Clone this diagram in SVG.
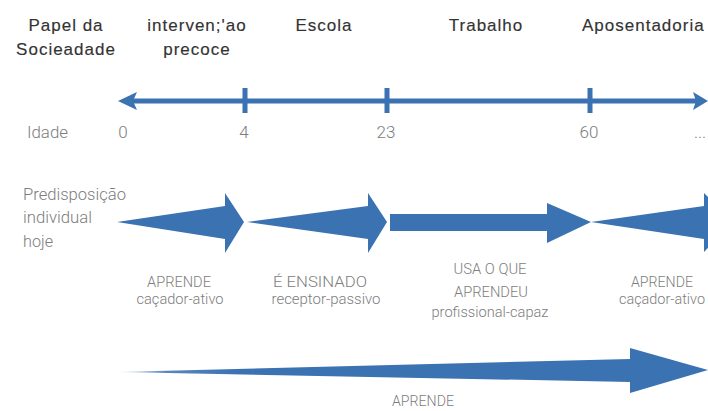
<svg xmlns="http://www.w3.org/2000/svg" width="708" height="411" viewBox="0 0 708 411">
<defs>
<style>
.hd{font-family:"Liberation Sans",Arial,sans-serif;font-size:17px;letter-spacing:1px;fill:#333;stroke:#333;stroke-width:0.15;text-anchor:middle}
.gy{font-family:Roboto,"Liberation Sans",sans-serif;font-weight:300;font-size:15px;fill:#7d7d7d;text-anchor:middle}
.gl{font-family:Roboto,"Liberation Sans",sans-serif;font-weight:300;font-size:17px;fill:#7d7d7d;text-anchor:start}
.bl{fill:#3a72b2}
</style>
<linearGradient id="fade" x1="117" y1="0" x2="240" y2="0" gradientUnits="userSpaceOnUse">
<stop offset="0" stop-color="#3a72b2" stop-opacity="0.1"/>
<stop offset="0.4" stop-color="#3a72b2" stop-opacity="0.85"/>
<stop offset="1" stop-color="#3a72b2"/>
</linearGradient>
</defs>
<rect width="708" height="411" fill="#fff"/>

<g id="headers">
<text class="hd" x="66" y="31">Papel da</text>
<text class="hd" x="66" y="55">Socieadade</text>
<text class="hd" x="197" y="31">interven;'ao</text>
<text class="hd" x="197" y="55">precoce</text>
<text class="hd" x="324" y="31">Escola</text>
<text class="hd" x="486" y="31">Trabalho</text>
<text class="hd" x="582" y="31" style="text-anchor:start">Aposentadoria</text>
</g>

<g id="connectors">
<g id="timeline">
<rect class="bl" x="130" y="98.5" width="568" height="5"/>
<polygon class="bl" points="118,101 137,92 133,101 137,110"/>
<polygon class="bl" points="708,101 693,92 696,101 693,110"/>
<rect class="bl" x="242.5" y="88" width="5" height="25"/>
<rect class="bl" x="384.5" y="88" width="5" height="25"/>
<rect class="bl" x="587.5" y="88" width="5" height="25"/>
</g>
<g id="bottom-arrow">
<polygon fill="url(#fade)" points="117,372 630,359 630,348 708,370 630,393 630,382"/>
</g>
</g>

<g id="ages">
<text class="gl" x="27" y="138" textLength="41" lengthAdjust="spacingAndGlyphs">Idade</text>
<text class="gl" x="123" y="138" style="text-anchor:middle">0</text>
<text class="gl" x="244" y="138" style="text-anchor:middle">4</text>
<text class="gl" x="386" y="138" style="text-anchor:middle">23</text>
<text class="gl" x="589" y="138" style="text-anchor:middle">60</text>
<text class="gl" x="700" y="138" style="text-anchor:middle">...</text>
</g>

<g id="predisposicao">
<text class="gl" x="23" y="200" textLength="103" lengthAdjust="spacingAndGlyphs">Predisposição</text>
<text class="gl" x="23" y="223" textLength="69" lengthAdjust="spacingAndGlyphs">individual</text>
<text class="gl" x="23" y="247" textLength="30" lengthAdjust="spacingAndGlyphs">hoje</text>
</g>

<g id="node-aprende-1">
<polygon class="bl" points="117,222 225,206 225,193 244,222 225,253 225,239"/>
<text class="gy" x="179" y="287" textLength="64" lengthAdjust="spacingAndGlyphs">APRENDE</text>
<text class="gy" x="180" y="304" textLength="87" lengthAdjust="spacingAndGlyphs">caçador-ativo</text>
</g>

<g id="node-ensinado">
<polygon class="bl" points="247,222 368,206 368,193 387,222 368,253 368,239"/>
<text class="gy" x="320" y="287" textLength="94" lengthAdjust="spacingAndGlyphs">É ENSINADO</text>
<text class="gy" x="326" y="304" textLength="109" lengthAdjust="spacingAndGlyphs">receptor-passivo</text>
</g>

<g id="node-usa">
<polygon class="bl" points="390,214 547,214 547,203 591,222 547,243 547,231 390,231"/>
<text class="gy" x="490" y="274" textLength="73" lengthAdjust="spacingAndGlyphs">USA O QUE</text>
<text class="gy" x="491" y="297" textLength="74" lengthAdjust="spacingAndGlyphs">APRENDEU</text>
<text class="gy" x="490" y="317" textLength="117" lengthAdjust="spacingAndGlyphs">profissional-capaz</text>
</g>

<g id="node-aprende-2">
<polygon class="bl" points="591,222 704,206 704,193 733,222 704,252 704,239"/>
<text class="gy" x="662" y="287" textLength="62" lengthAdjust="spacingAndGlyphs">APRENDE</text>
<text class="gy" x="662" y="304" textLength="86" lengthAdjust="spacingAndGlyphs">caçador-ativo</text>
</g>

<g id="node-aprende-bottom">
<text class="gy" x="423" y="406" textLength="62" lengthAdjust="spacingAndGlyphs">APRENDE</text>
</g>
</svg>
